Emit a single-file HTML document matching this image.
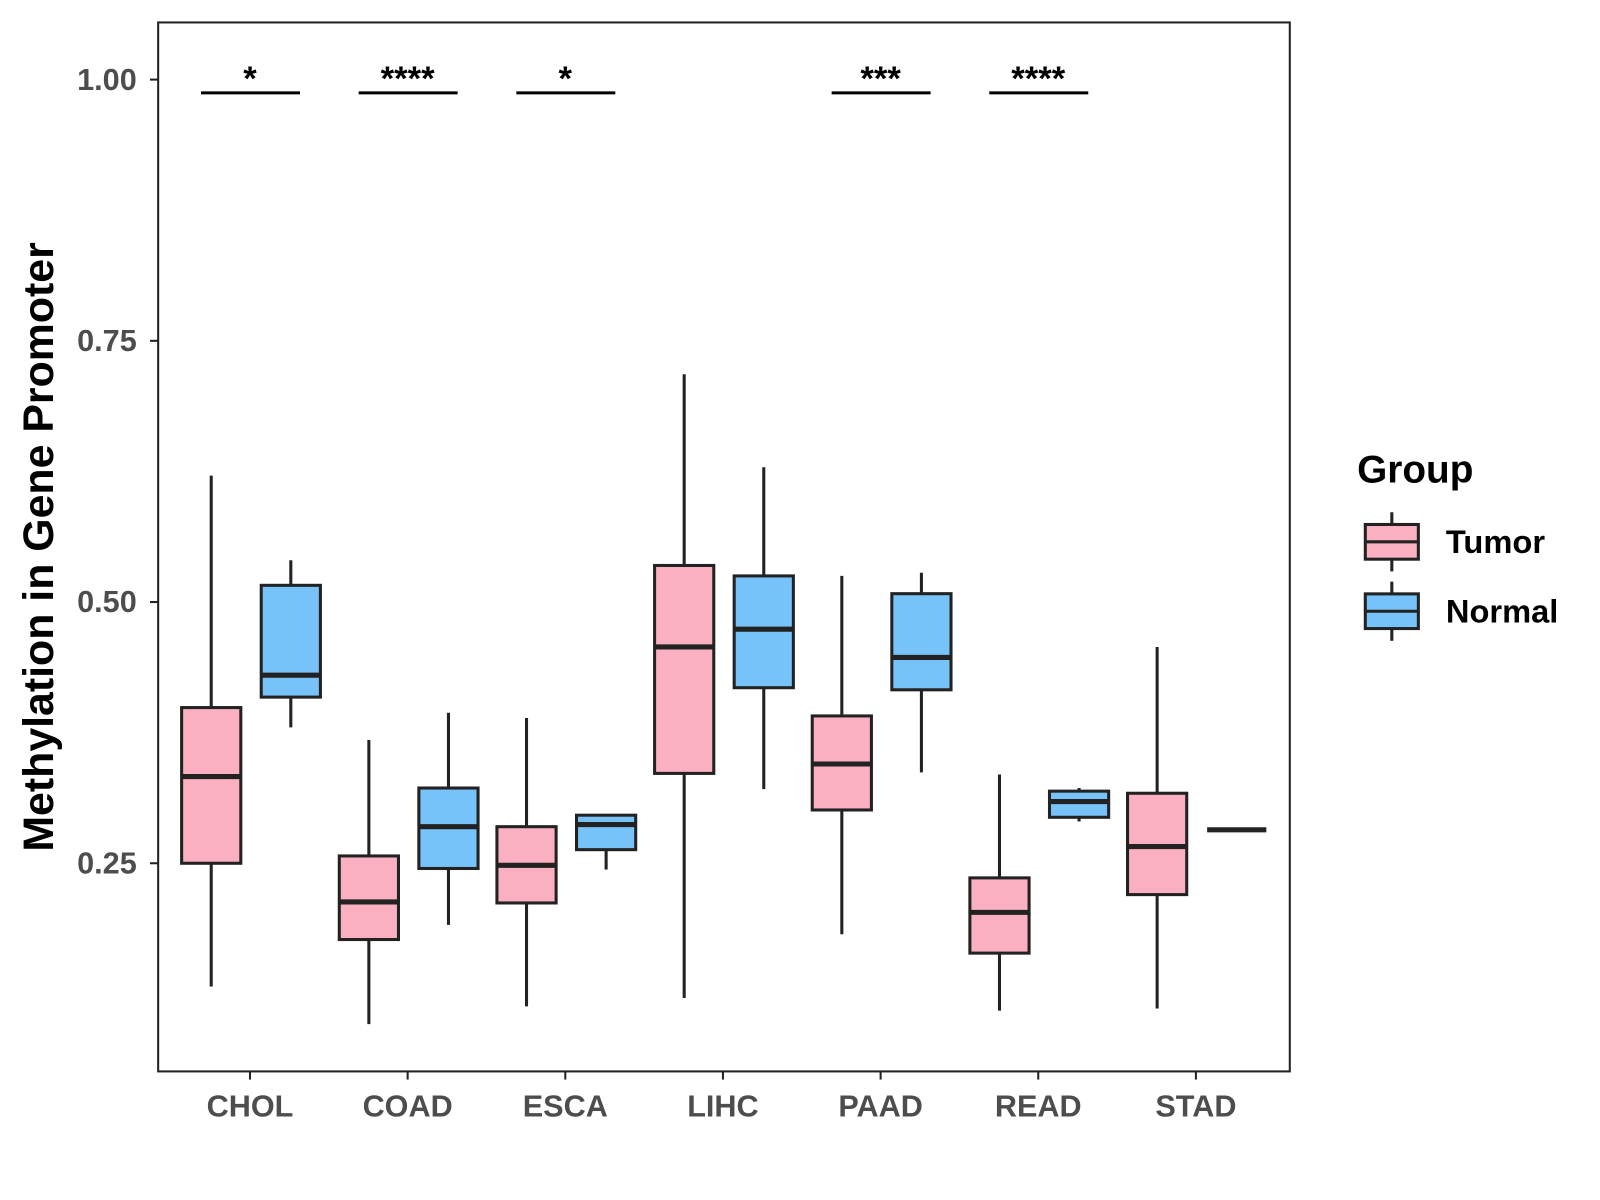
<!DOCTYPE html>
<html><head><meta charset="utf-8"><style>body{margin:0;background:#fff}svg{display:block;font-family:"Liberation Sans",Arial,sans-serif}</style></head>
<body>
<svg width="1600" height="1200"><g id="chart" transform="scale(1.0204)"></g></svg>
<script>
const categories=["CHOL","COAD","ESCA","LIHC","PAAD","READ","STAD"];
// [whiskerLow, q1, median, q3, whiskerHigh]
const tumorStats=[[0.132,0.25,0.333,0.399,0.621],[0.096,0.177,0.213,0.257,0.368],[0.113,0.212,0.248,0.285,0.389],[0.121,0.336,0.457,0.535,0.718],[0.182,0.301,0.345,0.391,0.525],[0.109,0.164,0.203,0.236,0.335],[0.111,0.220,0.266,0.317,0.457]];
const normalStats=[[0.380,0.409,0.430,0.516,0.540],[0.191,0.245,0.285,0.322,0.394],[0.244,0.263,0.287,0.296,0.297],[0.321,0.418,0.474,0.525,0.629],[0.337,0.416,0.447,0.508,0.528],[0.290,0.294,0.309,0.319,0.322],[0.282,0.282,0.282,0.282,0.282]];
const sigLabels=["*","****","*","","***","****",""];
const yTicks=[0.25,0.5,0.75,1.0];
const yTickLabels=["0.25","0.50","0.75","1.00"];
const NS="http://www.w3.org/2000/svg",svg=document.getElementById("chart");
function y(v){return 78+(1-v)*1024;}
function x(i){return 245+i*154.5;}
function mk(t,a,p){const e=document.createElementNS(NS,t);for(const k in a)e.setAttribute(k,a[k]);(p||svg).appendChild(e);return e;}
const panel=mk("rect",{x:155,y:22,width:1109,height:1028,fill:"none",stroke:"#222","stroke-width":2});

yTicks.forEach((t,i)=>{const g=mk("g",{});
mk("line",{x1:147,x2:155,y1:y(t),y2:y(t),stroke:"#222","stroke-width":2},g);
const tx=mk("text",{x:134,y:y(t)+10,"text-anchor":"end","font-size":30,"font-weight":"bold",fill:"#4d4d4d"},g);tx.textContent=yTickLabels[i];});
categories.forEach((c,i)=>{const g=mk("g",{});
mk("line",{x1:x(i),x2:x(i),y1:1050,y2:1058,stroke:"#222","stroke-width":2},g);
const tx=mk("text",{x:x(i),y:1094,"text-anchor":"middle","font-size":30,"font-weight":"bold",fill:"#4d4d4d"},g);tx.textContent=c;});
function box(s,cx,fill,name){const g=mk("g",{});
mk("line",{x1:cx,x2:cx,y1:y(s[0]),y2:y(s[4]),stroke:"#222","stroke-width":3},g);
mk("rect",{x:cx-29,y:y(s[3]),width:58,height:Math.max(0,y(s[1])-y(s[3])),fill:fill,stroke:"#222","stroke-width":3},g);
mk("line",{x1:cx-29,x2:cx+29,y1:y(s[2]),y2:y(s[2]),stroke:"#222","stroke-width":5},g);}
categories.forEach((c,i)=>{box(tumorStats[i],x(i)-38,"#fbb0c1","box-tumor-"+c.toLowerCase());box(normalStats[i],x(i)+40,"#77c2f8","box-normal-"+c.toLowerCase());
if(sigLabels[i]){const g=mk("g",{});
mk("line",{x1:x(i)-48,x2:x(i)+49,y1:91,y2:91,stroke:"#000","stroke-width":3},g);
const t=mk("text",{x:x(i),y:88,"text-anchor":"middle","font-size":34,"font-weight":"bold"},g);t.textContent=sigLabels[i];}});
const yt=mk("text",{transform:"translate(52,536) rotate(-90)","text-anchor":"middle","font-size":42,"font-weight":"bold"});yt.textContent="Methylation in Gene Promoter";

const lg=mk("g",{});
const lt=mk("text",{x:1330,y:473,"font-size":38,"font-weight":"bold"},lg);lt.textContent="Group";
[["Tumor","#fbb0c1",531],["Normal","#77c2f8",599]].forEach(([n,f,cy])=>{const g=mk("g",{},lg);
mk("line",{x1:1364,x2:1364,y1:cy-29,y2:cy+29,stroke:"#222","stroke-width":3},g);
mk("rect",{x:1338,y:cy-17,width:52,height:34,fill:f,stroke:"#222","stroke-width":3},g);
mk("line",{x1:1338,x2:1390,y1:cy,y2:cy,stroke:"#222","stroke-width":3},g);
const t=mk("text",{x:1417,y:cy+11,"font-size":32,"font-weight":"bold"},g);t.textContent=n;});
</script>
</body></html>
